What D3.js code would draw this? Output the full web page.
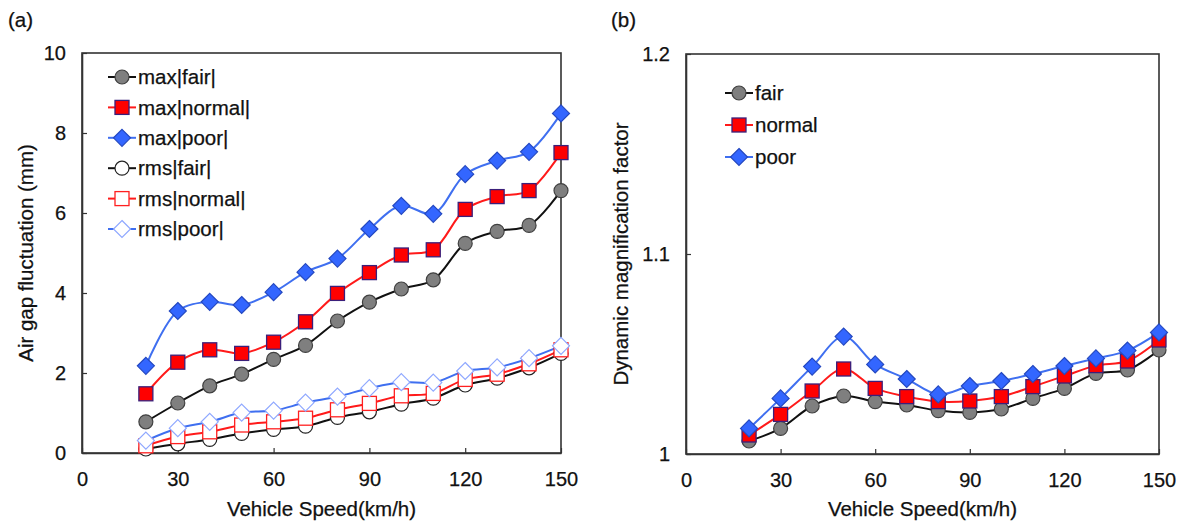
<!DOCTYPE html>
<html>
<head>
<meta charset="utf-8">
<script src="https://cdn.jsdelivr.net/npm/d3@7"></script>
<style>
  html, body { margin: 0; padding: 0; background: #fff; }
  svg { display: block; font-family: "Liberation Sans", Arial, sans-serif; }
</style>
</head>
<body>
<svg id="chart" width="1185" height="524"></svg>
<script>
// Vehicle speeds (km/h)
const speeds = [20, 30, 40, 50, 60, 70, 80, 90, 100, 110, 120, 130, 140, 150];

// (a) Air gap fluctuation (mm)
const maxFair   = [0.78, 1.25, 1.68, 1.97, 2.34, 2.69, 3.30, 3.77, 4.10, 4.33, 5.24, 5.54, 5.69, 6.56];
const maxNormal = [1.48, 2.27, 2.58, 2.49, 2.77, 3.28, 3.99, 4.51, 4.95, 5.08, 6.09, 6.41, 6.56, 7.51];
const maxPoor   = [2.18, 3.55, 3.78, 3.70, 4.02, 4.52, 4.86, 5.60, 6.18, 5.98, 6.97, 7.31, 7.53, 8.49];
const rmsFair   = [0.10, 0.23, 0.34, 0.49, 0.59, 0.67, 0.89, 1.03, 1.22, 1.37, 1.70, 1.87, 2.13, 2.49];
const rmsNormal = [0.18, 0.41, 0.53, 0.70, 0.78, 0.87, 1.08, 1.24, 1.43, 1.49, 1.84, 1.97, 2.23, 2.58];
const rmsPoor   = [0.31, 0.62, 0.78, 1.01, 1.06, 1.26, 1.41, 1.62, 1.77, 1.76, 2.05, 2.14, 2.37, 2.68];

// (b) Dynamic magnification factor
const dmfFair   = [1.0065, 1.0128, 1.0240, 1.0290, 1.0262, 1.0245, 1.0217, 1.0208, 1.0225, 1.0278, 1.0328, 1.0403, 1.0420, 1.0520];
const dmfNormal = [1.0095, 1.0198, 1.0315, 1.0425, 1.0328, 1.0287, 1.0262, 1.0265, 1.0287, 1.0337, 1.0390, 1.0442, 1.0465, 1.0570];
const dmfPoor   = [1.0128, 1.0278, 1.0437, 1.0587, 1.0448, 1.0375, 1.0298, 1.0340, 1.0365, 1.0400, 1.0440, 1.0478, 1.0517, 1.0608];

// Axis ticks
const xTicks = [0, 30, 60, 90, 120, 150];
const yTicksA = [0, 2, 4, 6, 8, 10];
const yTicksB = [1, 1.1, 1.2];
const yTickLabelsB = ["1", "1.1", "1.2"];

// Marker / line styles
const styles = {
  fairFilled:   { line: "#111111", shape: "circle",  fill: "#7f7f7f", stroke: "#404040" },
  normalFilled: { line: "#ff1a1a", shape: "square",  fill: "#ff0000", stroke: "#3b1f7a" },
  poorFilled:   { line: "#3f6ff0", shape: "diamond", fill: "#3366ff", stroke: "#2448c0" },
  fairOpen:     { line: "#111111", shape: "circle",  fill: "#ffffff", stroke: "#222222" },
  normalOpen:   { line: "#ff1a1a", shape: "square",  fill: "#ffffff", stroke: "#ff2020" },
  poorOpen:     { line: "#3f6ff0", shape: "diamond", fill: "#ffffff", stroke: "#8fa8ff" }
};

const svg = d3.select("#chart");
const titleSize = 20.5;
const legendSize = 20.5;
const tickSize = 20;
const ink = "#111";

function styleText(sel, size) {
  sel.attr("font-size", size).attr("fill", ink)
    .attr("stroke", ink).attr("stroke-width", 0.25)
    .attr("font-family", "Liberation Sans, Arial, sans-serif");
}

function drawMarker(g, shape, st, cx, cy) {
  if (shape === "circle") {
    g.append("circle").attr("cx", cx).attr("cy", cy).attr("r", 7)
      .attr("fill", st.fill).attr("stroke", st.stroke).attr("stroke-width", 1.2);
  } else if (shape === "square") {
    g.append("rect").attr("x", cx - 7).attr("y", cy - 7).attr("width", 14).attr("height", 14)
      .attr("fill", st.fill).attr("stroke", st.stroke).attr("stroke-width", 1.3);
  } else {
    const r = 8.5;
    g.append("path")
      .attr("d", `M${cx},${cy - r}L${cx + r},${cy}L${cx},${cy + r}L${cx - r},${cy}Z`)
      .attr("fill", st.fill).attr("stroke", st.stroke).attr("stroke-width", 1.2);
  }
}

function panel(opts) {
  const { left, right, top, bottom, yDomain, yTicks, yLabels, yTitle, yTitleX, series, legend, tag, tagX } = opts;
  const x = d3.scaleLinear().domain([0, 150]).range([left, right]);
  const y = d3.scaleLinear().domain(yDomain).range([bottom, top]);
  const g = svg.append("g");

  // panel tag
  g.append("text").attr("x", tagX).attr("y", 27).text(tag).call(styleText, titleSize);

  // frame
  g.append("rect").attr("x", left).attr("y", top).attr("width", right - left).attr("height", bottom - top)
    .attr("fill", "none").attr("stroke", "#333").attr("stroke-width", 1.6);

  // x axis (ticks inward)
  const xAxis = d3.axisBottom(x).tickValues(xTicks).tickSizeInner(-5).tickSizeOuter(0).tickPadding(19);
  const gx = g.append("g").attr("transform", `translate(0,${bottom})`).call(xAxis);
  gx.select(".domain").attr("stroke", "#333").attr("stroke-width", 1.6);
  gx.selectAll(".tick line").attr("stroke", "#333").attr("stroke-width", 1.2);
  gx.selectAll(".tick text").call(styleText, tickSize);

  // y axis (ticks inward)
  const yAxis = d3.axisLeft(y).tickValues(yTicks).tickSizeInner(-5).tickSizeOuter(0).tickPadding(16)
    .tickFormat((d, i) => yLabels[i]);
  const gy = g.append("g").attr("transform", `translate(${left},0)`).call(yAxis);
  gy.select(".domain").attr("stroke", "#333").attr("stroke-width", 1.6);
  gy.selectAll(".tick line").attr("stroke", "#333").attr("stroke-width", 1.2);
  gy.selectAll(".tick text").call(styleText, tickSize);

  // axis titles
  g.append("text").attr("x", (left + right) / 2).attr("y", 516).attr("text-anchor", "middle")
    .text("Vehicle Speed(km/h)").call(styleText, titleSize);
  g.append("text").attr("transform", `translate(${yTitleX},${(top + bottom) / 2}) rotate(-90)`)
    .attr("text-anchor", "middle").text(yTitle).call(styleText, titleSize);

  // series lines then markers
  const line = d3.line().x((d, i) => x(speeds[i])).y(d => y(d)).curve(d3.curveCatmullRom.alpha(0.5));
  series.forEach(s => {
    g.append("path").attr("d", line(s.values)).attr("fill", "none")
      .attr("stroke", s.style.line).attr("stroke-width", 2);
  });
  series.forEach(s => {
    const mg = g.append("g");
    s.values.forEach((v, i) => drawMarker(mg, s.style.shape, s.style, x(speeds[i]), y(v)));
  });

  // legend
  const lg = g.append("g");
  legend.items.forEach((it, i) => {
    const cy = legend.y0 + i * legend.dy;
    lg.append("line").attr("x1", legend.x0).attr("x2", legend.x0 + 28).attr("y1", cy).attr("y2", cy)
      .attr("stroke", it.style.line).attr("stroke-width", 2);
    drawMarker(lg, it.style.shape, it.style, legend.x0 + 14, cy);
    lg.append("text").attr("x", legend.x0 + 30).attr("y", cy).attr("dy", "0.35em")
      .text(it.label).call(styleText, legendSize);
  });
}

panel({
  left: 82, right: 561, top: 53, bottom: 453,
  yDomain: [0, 10], yTicks: yTicksA, yLabels: yTicksA.map(String),
  yTitle: "Air gap fluctuation (mm)", yTitleX: 33,
  tag: "(a)", tagX: 8,
  series: [
    { values: rmsFair, style: styles.fairOpen },
    { values: rmsNormal, style: styles.normalOpen },
    { values: rmsPoor, style: styles.poorOpen },
    { values: maxFair, style: styles.fairFilled },
    { values: maxNormal, style: styles.normalFilled },
    { values: maxPoor, style: styles.poorFilled }
  ],
  legend: {
    x0: 108, y0: 77, dy: 30.4,
    items: [
      { label: "max|fair|", style: styles.fairFilled },
      { label: "max|normal|", style: styles.normalFilled },
      { label: "max|poor|", style: styles.poorFilled },
      { label: "rms|fair|", style: styles.fairOpen },
      { label: "rms|normal|", style: styles.normalOpen },
      { label: "rms|poor|", style: styles.poorOpen }
    ]
  }
});

panel({
  left: 686, right: 1159, top: 54, bottom: 454,
  yDomain: [1, 1.2], yTicks: yTicksB, yLabels: yTickLabelsB,
  yTitle: "Dynamic magnification factor", yTitleX: 628,
  tag: "(b)", tagX: 611,
  series: [
    { values: dmfFair, style: styles.fairFilled },
    { values: dmfNormal, style: styles.normalFilled },
    { values: dmfPoor, style: styles.poorFilled }
  ],
  legend: {
    x0: 725, y0: 93, dy: 32,
    items: [
      { label: "fair", style: styles.fairFilled },
      { label: "normal", style: styles.normalFilled },
      { label: "poor", style: styles.poorFilled }
    ]
  }
});
</script>
</body>
</html>
